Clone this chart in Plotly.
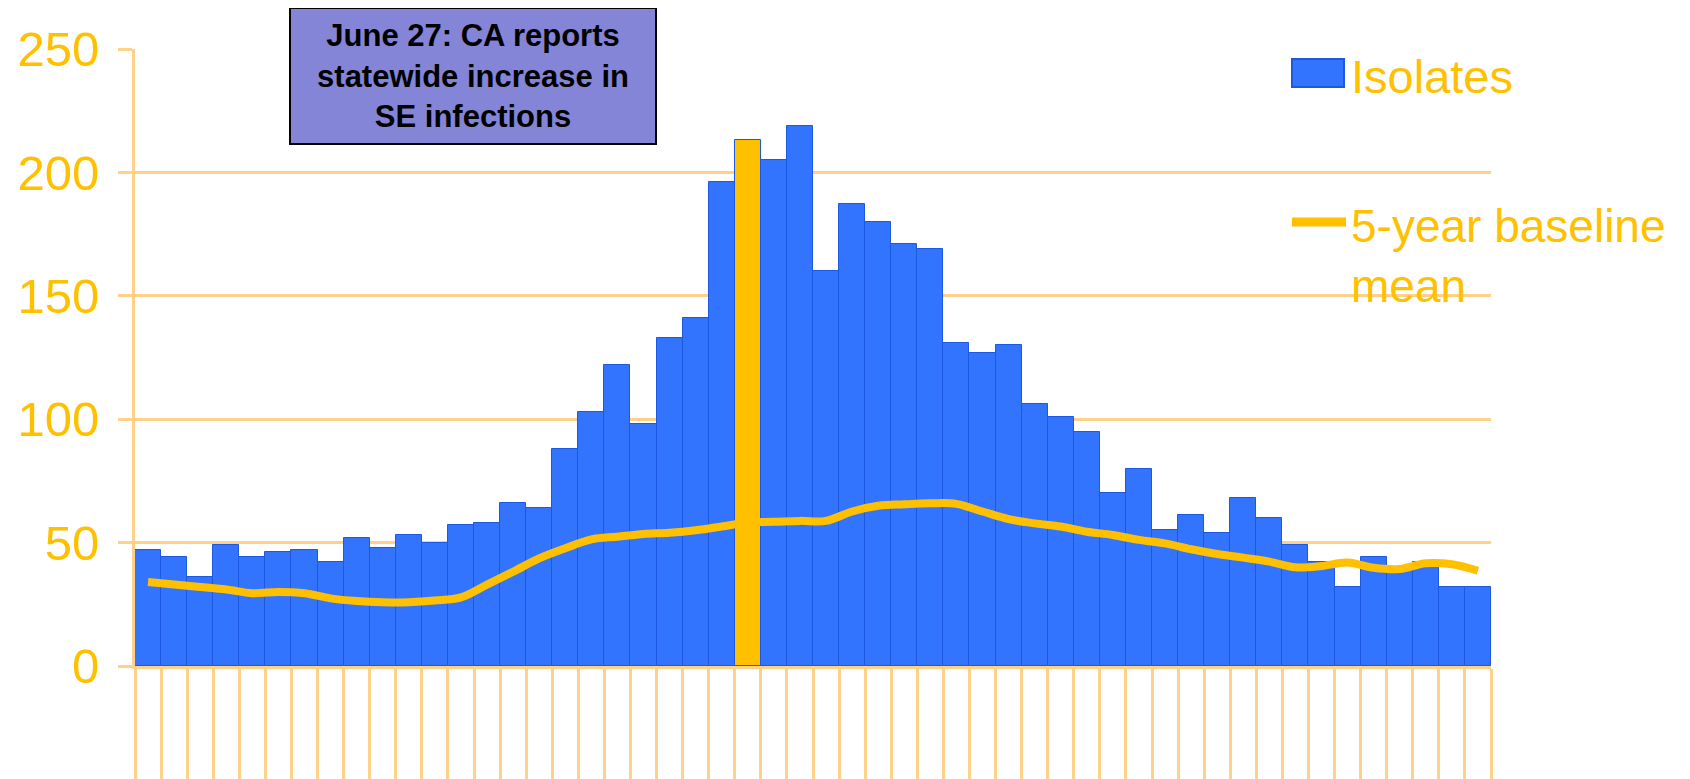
import plotly.graph_objects as go

# weekly Salmonella Enteritidis isolates vs 5-year baseline
weeks = list(range(1, 53))
isolates = [47, 44, 36, 49, 44, 46, 47, 42, 52, 48, 53, 50, 57, 58, 66, 64,
            88, 103, 122, 98, 133, 141, 196, 213, 205, 219, 160, 187, 180, 171,
            169, 131, 127, 130, 106, 101, 95, 70, 80, 55, 61, 54, 68, 60, 49, 42,
            32, 44, 40, 42, 32, 32]
baseline = [34, 33, 32, 31, 29.5, 30, 29.5, 27.4, 26.3, 25.8, 25.8, 26.5,
            27.8, 33, 38.2, 43.6, 47.7, 51.3, 52.4, 53.5, 54, 55, 56.5, 58.1,
            58.4, 58.8, 58.8, 62.6, 64.9, 65.5, 65.9, 65.7, 62.6, 59.5, 57.8,
            56.5, 54.4, 53.1, 51.1, 49.7, 47.3, 45.4, 43.9, 42.3, 40, 40.5,
            41.9, 39.8, 39.3, 41.6, 41.2, 38.6]
highlight_week = 24
y_ticks = [0, 50, 100, 150, 200, 250]

BLUE = "#3374FF"
GOLD = "#FFC000"
GRID = "#FFD08A"

# page body adds an 8px margin, so screen pixels are shifted by it
OFF = 8
L, R, T, B = 135 - OFF, 1491 - OFF, 49 - OFF, 666 - OFF
W, H = R - L, B - T


def px_x(x):
    return (x - OFF - L) / W


def px_y(y):
    return (B - (y - OFF)) / H


bar_colors = [GOLD if w == highlight_week else BLUE for w in weeks]

fig = go.Figure()
fig.add_trace(go.Bar(x=weeks, y=isolates, name="Isolates",
                     marker=dict(color=bar_colors, line=dict(color="#1C58E0", width=1))))
fig.add_trace(go.Scatter(x=weeks, y=baseline, name="5-year baseline mean",
                         mode="lines", line=dict(color=GOLD, width=8, shape="spline")))

fig.update_layout(
    width=1690, height=779,
    margin=dict(l=L, r=1690 - R, t=T, b=779 - B),
    plot_bgcolor="white", paper_bgcolor="white",
    bargap=0, showlegend=False,
    font=dict(family="Liberation Sans, Arial, sans-serif"),
)
fig.update_xaxes(range=[0.5, 52.5], tickmode="array",
                 tickvals=[w - 0.5 for w in weeks] + [52.5],
                 ticks="outside", ticklen=130, tickwidth=3, tickcolor=GRID,
                 showticklabels=False, showgrid=False, zeroline=False,
                 showline=True, linecolor=GRID, linewidth=3, automargin=False)
fig.update_yaxes(range=[0, 250], tickmode="array", tickvals=y_ticks,
                 ticks="outside", ticklen=14, tickwidth=3, tickcolor=GRID,
                 tickfont=dict(size=49, color=GOLD), ticklabelstandoff=9,
                 showgrid=True, gridcolor=GRID, gridwidth=3, zeroline=False,
                 showline=True, linecolor=GRID, linewidth=3, automargin=False)

# annotation box
fig.add_annotation(xref="paper", yref="paper",
                   x=px_x(473), y=px_y(76.5), xanchor="center", yanchor="middle",
                   text="<b>June 27: CA reports<br>statewide increase in<br>SE infections</b>",
                   showarrow=False, align="center",
                   font=dict(size=31, color="black", family="Liberation Sans, Arial, sans-serif"),
                   bgcolor="#8585D8", bordercolor="black", borderwidth=2, borderpad=0,
                   width=364, height=134)

# legend drawn by hand to match the large legend of the original
fig.add_shape(type="rect", xref="paper", yref="paper",
              x0=px_x(1292), x1=px_x(1344), y0=px_y(87), y1=px_y(59),
              fillcolor=BLUE, line=dict(color="#1C58E0", width=2))
fig.add_shape(type="line", xref="paper", yref="paper",
              x0=px_x(1292), x1=px_x(1346), y0=px_y(222), y1=px_y(222),
              line=dict(color=GOLD, width=9))
fig.add_annotation(xref="paper", yref="paper", x=px_x(1349), y=px_y(76),
                   xanchor="left", yanchor="middle", text="Isolates",
                   showarrow=False, font=dict(size=47, color=GOLD))
fig.add_annotation(xref="paper", yref="paper", x=px_x(1349), y=px_y(256),
                   xanchor="left", yanchor="middle", text="5-year baseline<br>mean",
                   align="left", showarrow=False, font=dict(size=46, color=GOLD))

fig.write_html("out.html")
